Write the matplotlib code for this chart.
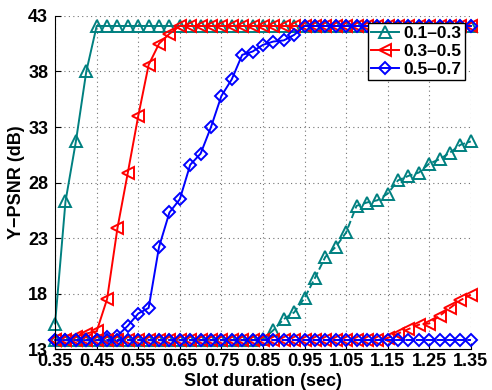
import matplotlib
matplotlib.use('Agg')
import matplotlib.pyplot as plt

plt.rcParams['font.family'] = ['Liberation Sans', 'DejaVu Sans']
plt.rcParams['font.weight'] = 'bold'

# slot durations (sec)
slot = [0.35, 0.375, 0.40, 0.425, 0.45, 0.475, 0.50, 0.525, 0.55, 0.575,
        0.60, 0.625, 0.65, 0.675, 0.70, 0.725, 0.75, 0.775, 0.80, 0.825,
        0.85, 0.875, 0.90, 0.925, 0.95, 0.975, 1.00, 1.025, 1.05, 1.075,
        1.10, 1.125, 1.15, 1.175, 1.20, 1.225, 1.25, 1.275, 1.30, 1.325, 1.35]

labels = ['0.1\u20130.3', '0.3\u20130.5', '0.5\u20130.7']
colors = ['#008080', '#ff0000', '#0000ff']
markers = ['^', '<', 'D']

# solid curves
psnr_a = [15.3, 26.3, 31.7, 38.0] + [42.1] * 37
psnr_b = [13.8, 13.8, 14.1, 14.4, 14.6, 17.5, 23.9, 28.9, 34.0, 38.6,
          40.5, 41.4] + [42.1] * 29
psnr_c = [13.8] * 5 + [14.1, 14.2, 15.1, 16.2, 16.7, 22.2, 25.3, 26.5, 29.6,
                       30.6, 33.0, 35.8, 37.3, 39.5, 39.8, 40.4, 40.7, 40.8,
                       41.3] + [42.1] * 17

# dashed curves
psnr_a2 = [13.8] * 20 + [13.9, 14.7, 15.7, 16.3, 17.6, 19.4, 21.3, 22.2, 23.5,
                         25.9, 26.2, 26.4, 27.0, 28.2, 28.6, 28.9, 29.7, 30.1,
                         30.7, 31.4, 31.7]
psnr_b2 = [13.8] * 32 + [14.0, 14.4, 14.8, 15.2, 15.3, 16.0, 16.7, 17.4, 17.9]
psnr_c2 = [13.8] * 41

fig = plt.figure(figsize=(4.92, 3.9), dpi=100)
ax = fig.add_axes([0.112, 0.105, 0.845, 0.854])

solid = [psnr_a, psnr_b, psnr_c]
dashed = [psnr_a2, psnr_b2, psnr_c2]

for ys, c, m, lab in zip(solid, colors, markers, labels):
    ms = 6.5 if m == 'D' else 8.5
    ax.plot(slot, ys, color=c, marker=m, markersize=ms, markerfacecolor='none',
            markeredgewidth=1.4, linewidth=1.4, label=lab, clip_on=False)

for ys, c, m in zip(dashed, colors, markers):
    ms = 6.5 if m == 'D' else 8.5
    ax.plot(slot, ys, color=c, marker=m, markersize=ms, markerfacecolor='none',
            markeredgewidth=1.4, linewidth=1.4, linestyle='--', clip_on=False)

ax.set_xlim(0.35, 1.35)
ax.set_ylim(13, 43)
ax.set_xticks([0.35, 0.45, 0.55, 0.65, 0.75, 0.85, 0.95, 1.05, 1.15, 1.25, 1.35])
ax.set_xticklabels(['0.35', '0.45', '0.55', '0.65', '0.75', '0.85', '0.95',
                    '1.05', '1.15', '1.25', '1.35'])
ax.set_yticks([13, 18, 23, 28, 33, 38, 43])
ax.tick_params(direction='in', labelsize=13, length=4)
ax.tick_params(axis='x', pad=3)
ax.tick_params(axis='y', pad=5)
for t in ax.get_xticklabels() + ax.get_yticklabels():
    t.set_fontweight('bold')

ax.grid(True, linestyle=(0, (1, 3)), color='0.45', linewidth=0.8)
ax.spines['top'].set_visible(False)
ax.spines['right'].set_visible(False)

ax.set_xlabel('Slot duration (sec)', fontsize=13, fontweight='bold', labelpad=2)
ax.set_ylabel('Y\u2212PSNR (dB)', fontsize=13, fontweight='bold', labelpad=2)

leg = ax.legend(loc='upper right', bbox_to_anchor=(0.99, 0.985), fancybox=False,
                edgecolor='black', framealpha=1, fontsize=12.5, handlelength=1.6,
                borderpad=0.2, labelspacing=0.15, handletextpad=0.25,
                borderaxespad=0.1)
leg.get_frame().set_linewidth(1.0)

fig.savefig('out.png', dpi=100)
